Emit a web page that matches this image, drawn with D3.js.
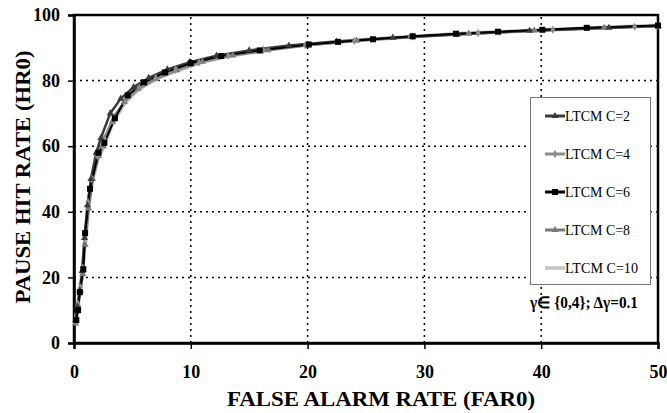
<!DOCTYPE html>
<html>
<head>
<meta charset="utf-8">
<script src="https://cdn.jsdelivr.net/npm/d3@7"></script>
<style>
  body { margin: 0; background: #fff; }
  svg { display: block; }
</style>
</head>
<body>
<svg id="chart" width="667" height="413"></svg>
<script>
// series: [far, hr]
var seriesNames = ["LTCM C=2", "LTCM C=4", "LTCM C=6", "LTCM C=8", "LTCM C=10"];
var c2 = [[0.15,7],[0.3,11],[0.5,16],[0.7,22],[0.9,32],[1.15,42],[1.45,50],[1.9,58],[2.3,62.5],[3.1,70],[4.0,74.5],[5.1,78],[6.4,80.8],[8.0,83.4],[9.9,85.6],[12.2,87.6],[15.0,89.2],[18.4,90.7],[22.5,91.9],[27.3,93.1],[32.8,94.1],[39.0,95.2],[45.8,96.1],[50,96.7]];
var c4 = [[0.15,6.5],[0.35,12],[0.55,17],[0.75,23],[0.95,33],[1.2,43],[1.5,50],[2.0,57],[2.6,62.5],[3.4,69],[4.4,74],[5.6,77.8],[7.0,80.8],[8.7,83.3],[10.7,85.5],[13.2,87.6],[16.2,89.4],[19.8,90.8],[24.0,92.1],[29.0,93.4],[34.6,94.5],[41.0,95.5],[48.0,96.4],[50,96.7]];
var c6 = [[0.2,7],[0.35,10],[0.5,15.5],[0.8,22.5],[0.95,33.5],[1.37,47],[2.1,58],[2.6,61],[3.5,68.5],[4.6,75.5],[6.0,79.5],[7.8,82.5],[10.0,85.3],[12.6,87.5],[15.9,89.2],[20.1,91],[22.6,91.8],[25.6,92.6],[29.0,93.5],[32.7,94.3],[36.3,94.9],[40.1,95.5],[43.9,96.1],[50,96.8]];
var c8 = [[0.15,6],[0.35,11.5],[0.55,16],[0.75,21],[0.95,30],[1.25,41],[1.6,50],[2.1,57],[2.5,60],[3.3,67.5],[4.3,73.5],[5.5,77.5],[7.0,80.5],[8.8,83.2],[11.0,85.8],[13.6,87.7],[16.6,89.3],[20.0,90.8],[24.2,92.2],[28.8,93.3],[33.8,94.3],[39.4,95.3],[45.4,96.1],[50,96.6]];
var c10 = [[0.12,6],[0.3,11],[0.5,16],[0.7,21],[0.95,31],[1.25,42],[1.6,50],[2.1,57],[2.5,59.5],[3.3,67],[4.3,73],[5.5,77.3],[7.0,80.5],[8.8,83],[11.0,85.7],[13.6,87.7],[16.6,89.4],[20.0,91],[24.2,92.3],[28.8,93.4],[33.8,94.4],[39.4,95.3],[45.4,96.2],[50,96.8]];
var seriesData = [c2, c4, c6, c8, c10];
var colors = ["#3a3a3a", "#8c8c8c", "#000000", "#7a7a7a", "#c4c4c4"];
var widths = [2.5, 2.5, 2, 2.5, 4];
var xTicks = [0, 10, 20, 30, 40, 50];
var yTicks = [0, 20, 40, 60, 80, 100];

var svg = d3.select("#chart");
var margin = {left: 74, right: 9, top: 15, bottom: 70};
var W = 667, H = 413;
var serif = "'Liberation Serif', 'Times New Roman', serif";

var x = d3.scaleLinear().domain([0, 50]).range([margin.left, W - margin.right]);
var y = d3.scaleLinear().domain([0, 100]).range([H - margin.bottom, margin.top]);

// dotted grid
svg.append("g").selectAll("line").data(yTicks.slice(1, -1)).join("line")
    .attr("x1", x(0)).attr("x2", x(50))
    .attr("y1", d => y(d)).attr("y2", d => y(d))
    .attr("stroke", "#000").attr("stroke-width", 1.5).attr("stroke-dasharray", "2,4");
svg.append("g").selectAll("line").data(xTicks.slice(1, -1)).join("line")
    .attr("x1", d => x(d)).attr("x2", d => x(d))
    .attr("y1", y(0)).attr("y2", y(100))
    .attr("stroke", "#000").attr("stroke-width", 1.5).attr("stroke-dasharray", "2,4");

// frame
svg.append("rect")
    .attr("x", x(0)).attr("y", y(100))
    .attr("width", x(50) - x(0)).attr("height", y(0) - y(100))
    .attr("fill", "none").attr("stroke", "#000").attr("stroke-width", 2.5);

// axes
var xAxis = svg.append("g").attr("transform", "translate(0," + y(0) + ")")
    .call(d3.axisBottom(x).tickValues(xTicks).tickSize(6).tickPadding(16));
var yAxis = svg.append("g").attr("transform", "translate(" + x(0) + ",0)")
    .call(d3.axisLeft(y).tickValues(yTicks).tickSize(6).tickPadding(8));
[xAxis, yAxis].forEach(g => {
    g.attr("font-family", null).attr("font-size", null);
    g.select(".domain").attr("stroke-width", 2.5);
    g.selectAll(".tick line").attr("stroke-width", 1.5);
    g.selectAll(".tick text")
        .attr("font-family", serif).attr("font-weight", "bold").attr("font-size", 18).attr("fill", "#000");
});

// curves
var line = d3.line().x(d => x(d[0])).y(d => y(d[1]));
var order = [4, 3, 1, 0, 2];
order.forEach(i => {
    svg.append("path").datum(seriesData[i])
        .attr("d", line)
        .attr("fill", "none")
        .attr("stroke", colors[i])
        .attr("stroke-width", widths[i])
        .attr("stroke-linejoin", "round");
});
function marker(g, i, px, py) {
    if (i === 2) {
        g.append("rect").attr("x", px - 3).attr("y", py - 3).attr("width", 6).attr("height", 6).attr("fill", "#000");
    } else if (i === 0 || i === 3) {
        g.append("path").attr("d", d3.symbol(d3.symbolTriangle, 22)()).attr("transform", "translate(" + px + "," + py + ")").attr("fill", colors[i]);
    } else if (i === 1) {
        g.append("path").attr("d", d3.symbol(d3.symbolDiamond, 20)()).attr("transform", "translate(" + px + "," + py + ")").attr("fill", colors[i]);
    } else {
        g.append("rect").attr("x", px - 2.5).attr("y", py - 1).attr("width", 5).attr("height", 2).attr("fill", colors[i]);
    }
}
order.forEach(i => {
    var g = svg.append("g");
    seriesData[i].forEach(d => marker(g, i, x(d[0]), y(d[1])));
});

// legend
var lg = svg.append("g");
lg.append("rect").attr("x", 530.5).attr("y", 97.5).attr("width", 120).attr("height", 187)
    .attr("fill", "#fff").attr("stroke", "#777").attr("stroke-width", 1);
seriesNames.forEach((name, i) => {
    var ly = 116 + i * 38;
    lg.append("line").attr("x1", 545).attr("x2", 565).attr("y1", ly).attr("y2", ly)
        .attr("stroke", colors[i]).attr("stroke-width", widths[i] === 4 ? 3.5 : 3);
    marker(lg, i, 555, ly);
    lg.append("text").attr("x", 565).attr("y", ly + 5)
        .attr("font-family", serif).attr("font-size", 15)
        .attr("textLength", i === 4 ? 73 : 65).attr("lengthAdjust", "spacingAndGlyphs")
        .text(name);
});
svg.append("text").attr("x", 530).attr("y", 308)
    .attr("font-family", serif).attr("font-weight", "bold").attr("font-size", 16)
    .attr("textLength", 108).attr("lengthAdjust", "spacingAndGlyphs")
    .text("γ∈ {0,4}; Δγ=0.1");

// axis titles
svg.append("text").attr("x", 381).attr("y", 406).attr("text-anchor", "middle")
    .attr("font-family", serif).attr("font-weight", "bold").attr("font-size", 22)
    .attr("textLength", 308).attr("lengthAdjust", "spacingAndGlyphs")
    .text("FALSE ALARM RATE (FAR0)");
svg.append("text").attr("transform", "translate(30,177) rotate(-90)").attr("text-anchor", "middle")
    .attr("font-family", serif).attr("font-weight", "bold").attr("font-size", 22)
    .attr("textLength", 253).attr("lengthAdjust", "spacingAndGlyphs")
    .text("PAUSE HIT RATE (HR0)");
</script>
</body>
</html>
